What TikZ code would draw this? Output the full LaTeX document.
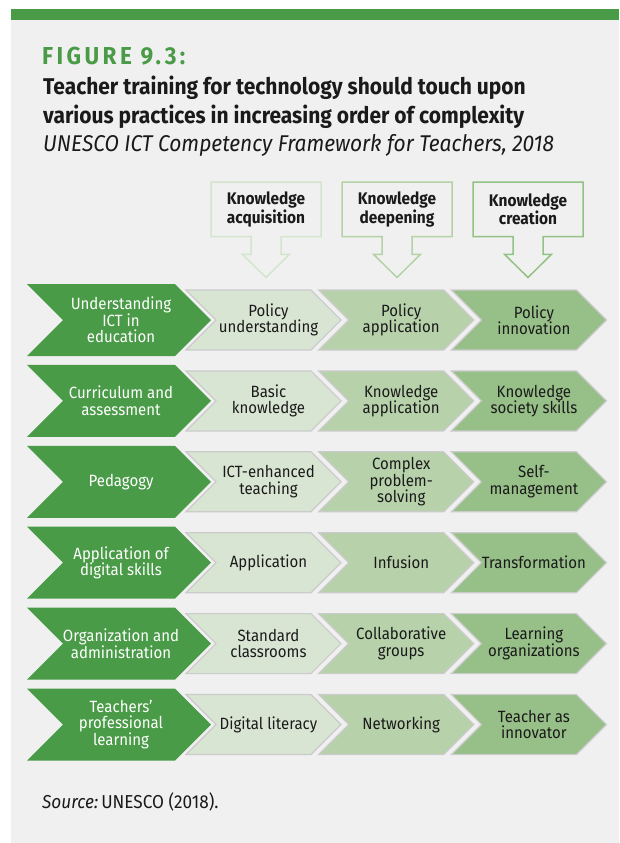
\documentclass[tikz,border=0pt]{standalone}
\usepackage{fontspec}
\setmainfont{Fira Sans}[FakeStretch=0.92]
\definecolor{figgreen}{HTML}{4A9B47}
\definecolor{panel}{HTML}{F0F0F0}
\definecolor{lvA}{HTML}{D9E5D3}
\definecolor{lvB}{HTML}{B7D1AA}
\definecolor{lvC}{HTML}{97BF88}
\definecolor{chevline}{HTML}{CBCBCB}
\definecolor{bxA}{HTML}{D3E5CC}
\definecolor{bxB}{HTML}{B4D2A6}
\definecolor{bxC}{HTML}{92C285}
\definecolor{ink}{HTML}{1A1A1A}
\begin{document}
\begin{tikzpicture}[x=1pt,y=-1pt,
  titletext/.style={anchor=base west,inner sep=0pt},
  cell/.style={align=center,inner sep=0pt,text=ink,font=\fontsize{16.3}{16.5}\selectfont},
  headcell/.style={cell,font=\bfseries\fontsize{16.8}{16.6}\selectfont},
  darkcell/.style={cell,text=white},
  lightchev/.style={draw=chevline,line width=1.2pt,line join=miter},
  darkchev/.style={fill=figgreen},
  hbox/.style={line width=1.5pt,line join=miter}
]
\useasboundingbox (0,0) rectangle (619,843);
\fill[white] (0,0) rectangle (619,843);
\fill[panel] (11,20) rectangle (619,843);
\fill[figgreen] (11,9.5) rectangle (619,20);

\node[titletext,text=figgreen,font=\bfseries\fontsize{24.5}{24.5}\selectfont\addfontfeature{LetterSpace=14}] (fig) at (42,65) {FIGURE 9.3:};
\node[titletext,text=ink,font=\bfseries\fontsize{22.8}{22.8}\selectfont] (t1) at (43,95) {Teacher training for technology should touch upon};
\node[titletext,text=ink,font=\bfseries\fontsize{22.8}{22.8}\selectfont] (t2) at (43,123.3) {various practices in increasing order of complexity};
\node[titletext,text=ink,font=\itshape\fontsize{22.8}{22.8}\selectfont] (t3) at (43,151.7) {UNESCO ICT Competency Framework for Teachers, 2018};

% header arrow boxes
\foreach \cx/\col/\nm/\txt in {266/bxA/ka/{Knowledge\\acquisition},397/bxB/kd/{Knowledge\\deepening},528/bxC/kc/{Knowledge\\creation}}{
  \draw[hbox,draw=\col] (\cx-55,182) -- (\cx+55,182) -- (\cx+55,236.7) -- (\cx+15,236.7) -- (\cx+15,254.3) -- (\cx+23.5,254.3) -- (\cx,277.5) -- (\cx-23.5,254.3) -- (\cx-15,254.3) -- (\cx-15,236.7) -- (\cx-55,236.7) -- cycle;
  \node[headcell] (\nm) at (\cx,209.5) {\txt};
}

% rows
\foreach \i/\dt/\at/\bt/\ct in {
  1/{Understanding\\ICT in\\education}/{Policy\\understanding}/{Policy\\application}/{Policy\\innovation},
  2/{Curriculum and\\assessment}/{Basic\\knowledge}/{Knowledge\\application}/{Knowledge\\society skills},
  3/{Pedagogy}/{ICT-enhanced\\teaching}/{\fontsize{16.3}{15}\selectfont Complex\\problem-\\solving}/{Self-\\management},
  4/{Application of\\digital skills}/{Application}/{Infusion}/{Transformation},
  5/{Organization and\\administration}/{Standard\\classrooms}/{Collaborative\\groups}/{Learning\\organizations},
  6/{Teachers’\\professional\\learning}/{Digital literacy}/{Networking}/{Teacher as\\innovator}}{
  \pgfmathsetmacro{\cy}{320+80.9*(\i-1)}
  \fill[darkchev] (27,\cy-36) -- (175,\cy-36) -- (211,\cy) -- (175,\cy+36) -- (27,\cy+36) -- (63,\cy) -- cycle;
  \node[darkcell] (d\i) at (121,\cy) {\dt};
  \foreach \k/\fc/\tx/\sfx in {0/lvA/\at/a,1/lvB/\bt/b,2/lvC/\ct/c}{
    \pgfmathsetmacro{\L}{186+132.7*\k}
    \draw[lightchev,fill=\fc] (\L,\cy-30) -- (\L+125,\cy-30) -- (\L+155,\cy) -- (\L+125,\cy+30) -- (\L,\cy+30) -- (\L+30,\cy) -- cycle;
    \node[cell] (\sfx\i) at (\L+82.5,\cy) {\tx};
  }
}

\node[titletext,text=ink,font=\fontsize{18.7}{18.7}\selectfont] (src) at (42,808) {\textit{Source:}\,UNESCO (2018).};
\end{tikzpicture}
\end{document}
